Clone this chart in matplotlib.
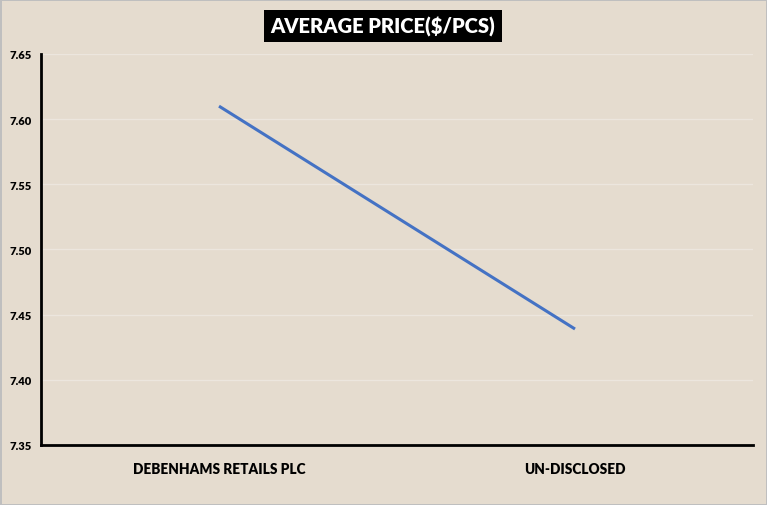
import matplotlib.pyplot as plt

# data
categories = ["DEBENHAMS RETAILS PLC", "UN-DISCLOSED"]
avg_price = [7.61, 7.439]
y_ticks = [7.35, 7.40, 7.45, 7.50, 7.55, 7.60, 7.65]

bg = "#E5DCCF"
fnt = ["Lato", "DejaVu Sans"]

fig = plt.figure(figsize=(7.67, 5.06), dpi=100)
fig.patch.set_facecolor(bg)
fig.patch.set_edgecolor("#BFBFBF")
fig.patch.set_linewidth(2)

# axes box in pixel terms: left 41, right 753, top 55, bottom 446
W, H = 767, 506
ax = fig.add_axes([41 / W, (H - 446) / H, (753 - 41) / W, (446 - 55) / H])
ax.set_facecolor(bg)

x = [0.5, 1.5]
ax.plot(x, avg_price, color="#4472C4", linewidth=2.2, solid_capstyle="butt")

ax.set_xlim(0, 2)
ax.set_ylim(7.35, 7.65)
ax.set_yticks(y_ticks)
ax.set_yticklabels([f"{v:.2f}" for v in y_ticks], fontsize=8, fontweight="heavy",
                   family=fnt)
ax.set_xticks(x)
ax.set_xticklabels(categories, fontsize=9.8, fontweight="heavy", family=fnt)
ax.tick_params(axis="y", length=0, pad=7)
ax.tick_params(axis="x", length=0, pad=12)

ax.yaxis.grid(True, color="#ECE6DE", linewidth=1)
ax.set_axisbelow(True)

for side in ["top", "right"]:
    ax.spines[side].set_visible(False)
for side in ["left", "bottom"]:
    ax.spines[side].set_linewidth(2)
    ax.spines[side].set_color("black")

fig.text(383 / W, 1 - 27 / H, "AVERAGE PRICE($/PCS)", ha="center", va="center",
         color="white", fontsize=14.5, fontweight="heavy", family=fnt,
         bbox=dict(facecolor="black", edgecolor="none", pad=4.5))

plt.savefig("out.png", dpi=100, facecolor=fig.get_facecolor(),
            edgecolor=fig.get_edgecolor())
